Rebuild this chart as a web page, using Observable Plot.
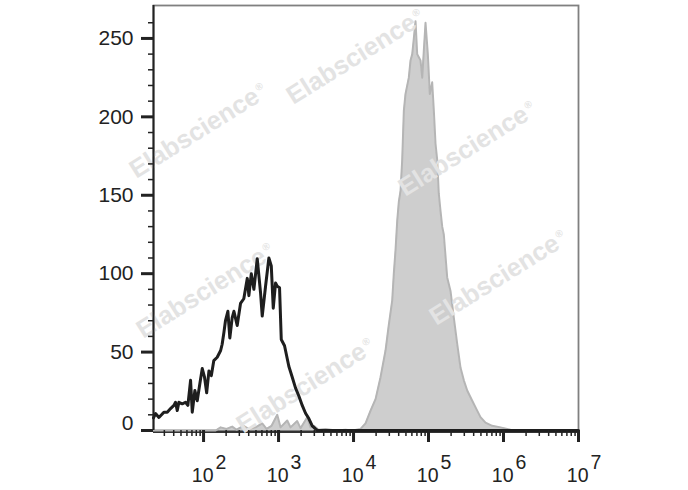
<!DOCTYPE html>
<html><head><meta charset="utf-8">
<script src="https://cdn.jsdelivr.net/npm/d3@7"></script>
<script src="https://cdn.jsdelivr.net/npm/@observablehq/plot@0.6"></script>
<style>
html,body{margin:0;padding:0;background:#fff;}
#chart{width:688px;height:490px;overflow:hidden;}
</style></head><body><div id="chart"></div>
<script>
// Isotype control (black line): fluorescence intensity and event count
const blackX = [21.5,22.9,25.4,27.5,29.6,32.8,36.3,40.2,42.3,44.6,46.9,52,57.5,61.8,67.1,70.7,76.6,82.4,89.3,96.1,103,110,118,127,137,152,169,177,187,196,211,224,241,254,281,311,344,383,402,433,469,520,575,606,671,743,800,850,912,961,1031,1087,1202,1371,1524,1686,1866,2070,2291,2535,2813,3114,3311,1e7];
const blackY = [8,10.8,8.3,10,11.7,11.7,14,16,18,12.7,18,17,18,16,32,11.7,25.5,19,30,39.5,34,24,38,35,44.6,46.7,51,55,62.6,70,76,59,72,76,67,81,84,97,86,100,90,109.5,88,73,92,110,105,78,94,92,91,58,54,41,34,27,22,16,11,7.6,3,1,0,0];
// Stained sample (gray filled area)
const grayX = [21.5,145,169,203,241,276,341,398,494,606,692,807,961,1063,1306,1445,1774,1965,2415,2673,2958,3415,4236,5754,7820,9700,12400,14450,16870,19650,22910,26700,29290,32800,34440,36300,38280,40200,42360,44570,46880,49320,54580,57540,60650,63700,67100,70630,74300,78200,82400,86500,91200,97900,104000,111900,117700,123900,130500,137100,144500,152300,159900,177400,196400,217400,241500,267300,295800,328100,382800,445700,493200,575400,706300,912000,1120000,1318000,1e7];
const grayY = [0,0,2,1,2.5,0.5,3,1,2,4.5,1,3,10,2,6.4,2,6,1.5,8.5,2,3,0.5,1,0,0.5,0,1,4.5,12.7,20,34,51,66,83,100,115,134,146,153,172.6,204,214.6,225,236,240,250,261,240,238,236,225,242,260,240,214.6,222,204,183,172.6,151,140,130,125,97.6,89,72,55,40,32,25.5,19,12.7,8.5,5,3,2,1,0,0];
// Axis ticks
const yMajor = [0,50,100,150,200,250];
const yMinor = [10,20,30,40,60,70,80,90,110,120,130,140,160,170,180,190,210,220,230,240,260];
const xMajorExp = ["2","3","4","5","6","7"];
const xMajor = [1e2,1e3,1e4,1e5,1e6,1e7];
const xMinorMult = [2,3,4,5,6,7,8,9];
const xMinorDecades = [10,100,1000,10000,100000,1000000];
const watermarkText = "Elabscience";

const black = blackX.map((x,i)=>({x, y: blackY[i]}));
const gray = grayX.map((x,i)=>({x, y: grayY[i]}));
const xMinor = xMinorDecades.flatMap(d => xMinorMult.map(m => m*d)).filter(v => v >= 21.5 && v <= 1e7);

const font = "'Liberation Sans', Arial, Helvetica, sans-serif";
const plot = Plot.plot({
  width: 688, height: 490,
  marginLeft: 153, marginRight: 110, marginTop: 5, marginBottom: 60,
  style: {fontFamily: font, background: "white", color: "#222", overflow: "visible"},
  x: {type: "log", domain: [21.5, 1e7], label: null},
  y: {domain: [0, 271], label: null},
  marks: [
    Plot.frame({stroke: "#808080", strokeWidth: 1.8}),
    Plot.ruleY([0], {stroke: "#333", strokeWidth: 1.8, dy: 1.5}),
    Plot.areaY(gray, {x: "x", y: "y", fill: "#cecece"}),
    Plot.lineY(gray, {x: "x", y: "y", stroke: "#b5b5b5", strokeWidth: 2}),
    Plot.lineY(black, {x: "x", y: "y", stroke: "#1e1e1e", strokeWidth: 3, strokeLinejoin: "round"}),
    Plot.ruleX([21.5], {stroke: "#222", strokeWidth: 2}),
    Plot.axisY(yMajor, {tickSize: 12, strokeWidth: 3, tickFormat: () => "", label: null}),
    Plot.axisY(yMinor, {tickSize: 5, strokeWidth: 1.5, tickFormat: () => "", label: null}),
    Plot.text(yMajor.filter(v => v > 0), {y: d => d, text: d => String(d), frameAnchor: "left", dx: -20, textAnchor: "end", fontSize: 21, fill: "#222"}),
    Plot.text(yMajor.filter(v => v === 0), {y: d => d, text: d => String(d), frameAnchor: "left", dx: -20, dy: -7, textAnchor: "end", fontSize: 21, fill: "#222"}),
    Plot.axisX(xMajor, {tickSize: 12, strokeWidth: 3, tickFormat: () => "", label: null}),
    Plot.axisX(xMinor, {tickSize: 6, strokeWidth: 1.5, tickFormat: () => "", label: null}),
    Plot.text(xMajor, {x: d => d, text: () => "10", frameAnchor: "bottom", dy: 51, dx: 10, textAnchor: "end", fontSize: 19.5, fill: "#222"}),
    Plot.text(xMajor, {x: d => d, text: (d, i) => xMajorExp[i], frameAnchor: "bottom", dy: 38, dx: 12, textAnchor: "start", fontSize: 19.5, fill: "#222"})
  ]
});
document.getElementById("chart").appendChild(plot);

// Watermarks (decoration), inserted beneath the black line
const lines = plot.querySelectorAll('[aria-label="line"]');
const before = lines[lines.length - 1];
const wmPos = [[355,56],[198,130],[467,148],[205,290],[498,277],[305,385]];
const g = d3.select(plot).insert("g", () => before).attr("aria-label", "watermark");
for (const [cx, cy] of wmPos) {
  const t = g.append("g").attr("transform", `translate(${cx},${cy}) rotate(-32)`)
    .append("text").attr("text-anchor", "middle").attr("dy", "0.35em")
    .attr("font-family", font).attr("font-weight", "bold").attr("font-size", 25.5).attr("fill", "#e3e3e3");
  t.append("tspan").text(watermarkText);
  t.append("tspan").attr("font-size", 10).attr("dy", "-1em").attr("dx", 2).text("®");
}
</script></body></html>
